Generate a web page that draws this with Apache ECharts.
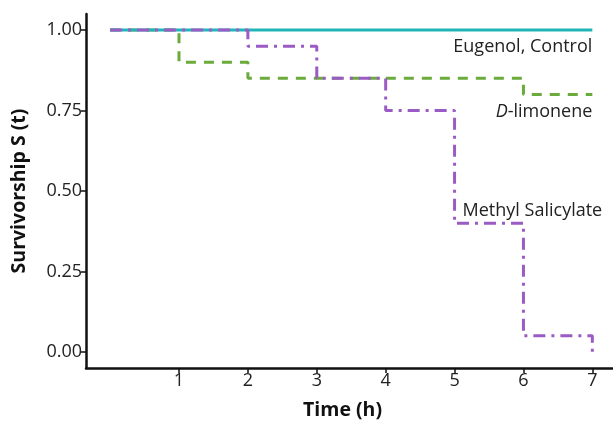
<!DOCTYPE html>
<html>
<head>
<meta charset="utf-8">
<script src="https://cdn.jsdelivr.net/npm/echarts@6/dist/echarts.min.js"></script>
<style>
  html, body { margin: 0; padding: 0; background: #fff; }
  #chart { width: 613px; height: 422px; }
</style>
</head>
<body>
<div id="chart"></div>
<script>
// survival step data, [time (h), S(t)]
const eugenolControl = [[0, 1.0], [7, 1.0]]
const dLimonene = [[0, 1.0], [1, 0.9], [2, 0.85], [6, 0.8], [7, 0.8]]
const methylSalicylate = [[0, 1.0], [2, 0.95], [3, 0.85], [4, 0.75], [5, 0.4], [6, 0.05], [7, 0.0]]

const xTicks = [1, 2, 3, 4, 5, 6, 7]
const yTicks = [0, 0.25, 0.5, 0.75, 1]

const font = "'Open Sans', 'Noto Sans', sans-serif"
const axisColor = '#111'

const labelStyle = { fontFamily: font, fontSize: 18, color: '#222' }

const chart = echarts.init(document.getElementById('chart'))

chart.setOption({
  backgroundColor: '#fff',
  animation: false,
  grid: { left: 86, right: 0, top: 14, bottom: 54, containLabel: false, outerBoundsMode: 'none' },
  xAxis: {
    type: 'value',
    min: -0.35,
    max: 7.3,
    name: 'Time (h)',
    nameLocation: 'middle',
    nameGap: 32,
    nameTextStyle: { fontFamily: font, fontSize: 19.5, fontWeight: 'bold', color: '#111', padding: [0, 14, 0, 0] },
    axisLine: { onZero: false, lineStyle: { color: axisColor, width: 2.5 } },
    axisTick: { show: true, length: 5, lineStyle: { color: axisColor, width: 1.5 }, customValues: xTicks },
    axisLabel: { fontFamily: font, fontSize: 18, color: '#222', margin: 4, customValues: xTicks },
    splitLine: { show: false },
  },
  yAxis: {
    type: 'value',
    min: -0.05,
    max: 1.05,
    name: 'Survivorship S (t)',
    nameLocation: 'middle',
    nameRotate: 90,
    nameGap: 57,
    nameTextStyle: { fontFamily: font, fontSize: 19.5, fontWeight: 'bold', color: '#111' },
    axisLine: { show: true, onZero: false, lineStyle: { color: axisColor, width: 2.5 } },
    axisTick: { show: true, length: 5, lineStyle: { color: axisColor, width: 1.5 }, customValues: yTicks },
    axisLabel: {
      fontFamily: font, fontSize: 18, color: '#222', margin: 4,
      customValues: yTicks,
      formatter: (v) => v.toFixed(2),
    },
    splitLine: { show: false },
  },
  series: [
    {
      name: 'Eugenol, Control',
      type: 'line',
      step: 'end',
      symbol: 'circle',
      symbolSize: 0,
      z: 2,
      lineStyle: { color: '#22b5b8', width: 3 },
      data: eugenolControl.map((d, i) => i === eugenolControl.length - 1
        ? { value: d, label: { show: true, position: 'bottom', align: 'right', distance: 8, formatter: 'Eugenol, Control', ...labelStyle } }
        : d),
    },
    {
      name: 'D-limonene',
      type: 'line',
      step: 'end',
      symbol: 'circle',
      symbolSize: 0,
      z: 1,
      lineStyle: { color: '#6aab3c', width: 3, type: [10, 8] },
      data: dLimonene.map((d, i) => i === dLimonene.length - 1
        ? {
            value: d,
            label: {
              show: true, position: 'bottom', align: 'right', distance: 8,
              formatter: '{i|D}-limonene', ...labelStyle,
              rich: { i: { fontStyle: 'italic', fontFamily: font, fontSize: 18, color: '#222' } },
            },
          }
        : d),
    },
    {
      name: 'Methyl Salicylate',
      type: 'line',
      step: 'end',
      symbol: 'circle',
      symbolSize: 0,
      z: 3,
      lineStyle: { color: '#9b5bc4', width: 3, type: [12, 6, 3, 6] },
      data: methylSalicylate.map((d, i) => i === 4
        ? { value: d, label: { show: true, position: 'right', distance: 8, offset: [0, -12], formatter: 'Methyl Salicylate', ...labelStyle } }
        : d),
    },
  ],
})
</script>
</body>
</html>
